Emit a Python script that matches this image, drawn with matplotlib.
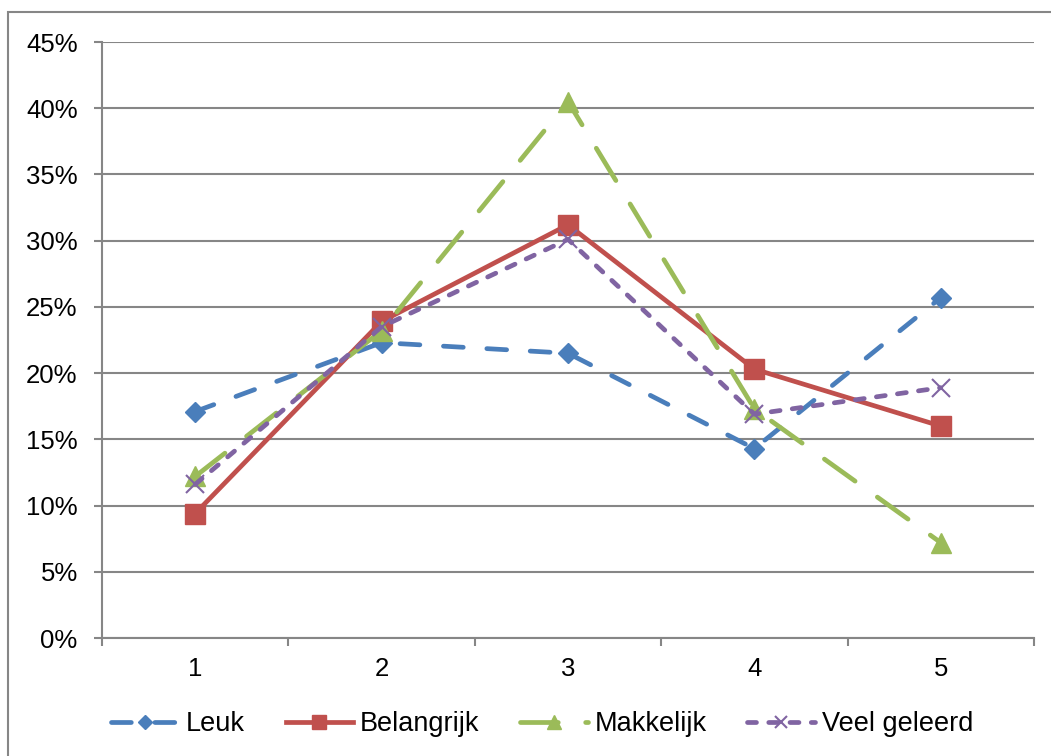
import numpy as np
import matplotlib.pyplot as plt
from matplotlib.patches import Rectangle

plt.rcParams['font.family'] = ['Liberation Sans', 'DejaVu Sans']

# Datos del gráfico
categorias = [1, 2, 3, 4, 5]
leuk = [17.1, 22.3, 21.5, 14.3, 25.7]
belangrijk = [9.4, 23.9, 31.2, 20.3, 16.0]
makkelijk = [12.2, 23.2, 40.5, 17.3, 7.2]
veel_geleerd = [11.6, 23.5, 30.1, 16.9, 18.9]
yticks = [0, 5, 10, 15, 20, 25, 30, 35, 40, 45]

fig = plt.figure(figsize=(10.51, 7.56), dpi=100)
W, H = 1051, 756

# Marco exterior
fig.patches.append(Rectangle((8 / W, -0.05), 1.1, 1 - 12 / H + 0.05,
                             transform=fig.transFigure, fill=False,
                             edgecolor='#868686', linewidth=1.5))

ax = fig.add_axes([102 / W, 1 - 638 / H, (1034 - 102) / W, (638 - 42) / H])

lw = 3.4
ax.plot(categorias, leuk, color='#4A7EBB', linewidth=lw, linestyle=(0, (4.2, 5.0)),
        marker='D', markersize=10, label='Leuk', dash_capstyle='round')
ax.plot(categorias, belangrijk, color='#C0504D', linewidth=lw, linestyle='-',
        marker='s', markersize=15, label='Belangrijk')
ax.plot(categorias, makkelijk, color='#9BBB59', linewidth=lw, linestyle=(0, (8.0, 5.8)),
        marker='^', markersize=15, label='Makkelijk', dash_capstyle='round')
ax.plot(categorias, veel_geleerd, color='#8064A2', linewidth=lw, linestyle=(0, (1.9, 2.6)),
        marker='x', markersize=13, markeredgewidth=1.5, label='Veel geleerd',
        dash_capstyle='round')

ax.set_xlim(0.5, 5.5)
ax.set_ylim(0, 45)
ax.set_yticks(yticks)
ax.set_yticklabels(['%d%%' % v for v in yticks])
ax.set_xticks(categorias)
ax.set_xticks(np.arange(0.5, 6, 1), minor=True)
ax.tick_params(axis='x', which='major', length=0, pad=14, labelsize=18.5)
ax.tick_params(axis='x', which='minor', length=6, width=1.5, color='#868686', direction='out')
ax.tick_params(axis='y', length=6, width=1.5, color='#868686', pad=11.5, labelsize=18.5)

ax.grid(True, axis='y', color='#868686', linewidth=1.5)
ax.set_axisbelow(True)
for s in ['top', 'right']:
    ax.spines[s].set_visible(False)
for s in ['left', 'bottom']:
    ax.spines[s].set_color('#868686')
    ax.spines[s].set_linewidth(1.5)

fig.legend(loc='center', bbox_to_anchor=(0.516, 1 - 724 / H), ncol=4, frameon=False,
           fontsize=19.5, handlelength=2.5, columnspacing=1.5, handletextpad=0.25,
           markerscale=0.7)

fig.savefig('out.png', dpi=100)
